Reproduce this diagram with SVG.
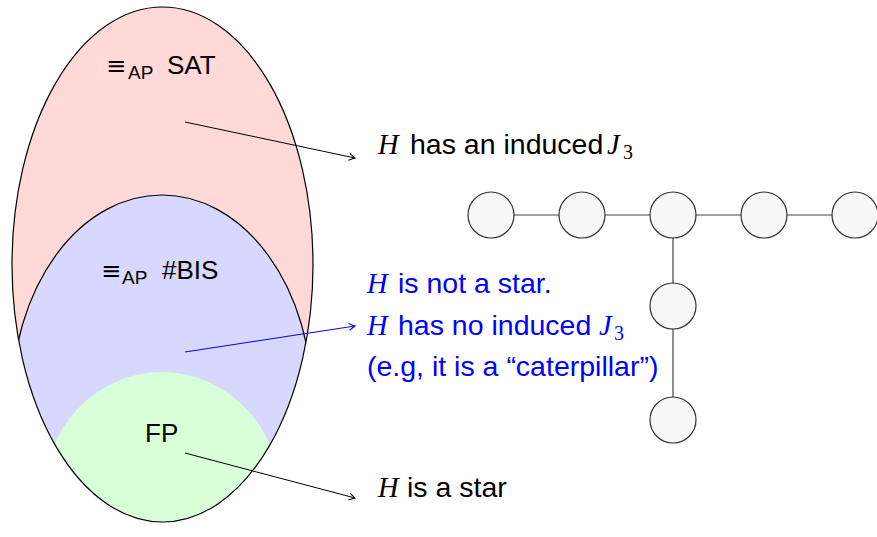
<svg xmlns="http://www.w3.org/2000/svg" width="877" height="537" viewBox="0 0 877 537">
<style>
.sans{font-family:"Liberation Sans",Arial,sans-serif;}
.math{font-family:"Liberation Serif","Times New Roman",serif;font-style:italic;}
.num{font-family:"Liberation Serif","Times New Roman",serif;}
.eq{font-family:"DejaVu Sans",sans-serif;font-size:24px;}
.lbl{font-size:26px;fill:#000;}
.rt{font-size:28.5px;}
.node{fill:#f7f7f7;stroke:#333;stroke-width:1.2;}
.edge{stroke:#444;stroke-width:1.2;fill:none;}
.arr{stroke:#000;stroke-width:1;fill:none;}
</style>
<defs>
<clipPath id="outerClip"><ellipse cx="162.5" cy="264.5" rx="150.5" ry="257.5"/></clipPath>
<marker id="tipK" viewBox="-8 -5 10 10" refX="0" refY="0" markerWidth="10" markerHeight="10" markerUnits="userSpaceOnUse" orient="auto"><path d="M-6,-3.5 Q-1.5,-0.8 0,0 Q-1.5,0.8 -6,3.5" fill="none" stroke="#000" stroke-width="1"/></marker>
<marker id="tipB" viewBox="-8 -5 10 10" refX="0" refY="0" markerWidth="10" markerHeight="10" markerUnits="userSpaceOnUse" orient="auto"><path d="M-6,-3.5 Q-1.5,-0.8 0,0 Q-1.5,0.8 -6,3.5" fill="none" stroke="#00f" stroke-width="1"/></marker>
</defs>

<g id="regions">
<ellipse id="sat" cx="162.5" cy="264.5" rx="150.5" ry="257.5" fill="#ffd8d8"/>
<g clip-path="url(#outerClip)">
<ellipse id="bis" cx="162" cy="400" rx="150" ry="205" fill="#d8d8ff" stroke="#000" stroke-width="1.2"/>
<ellipse id="fp" cx="162" cy="500" rx="120" ry="128" fill="#d8ffd8"/>
</g>
<ellipse cx="162.5" cy="264.5" rx="150.5" ry="257.5" fill="none" stroke="#000" stroke-width="1.2"/>
</g>

<g id="region-labels" class="sans lbl">
<text y="74"><tspan class="eq" x="106">≡</tspan><tspan font-size="19" x="128" y="79">AP</tspan><tspan x="167" y="74">SAT</tspan></text>
<text y="279"><tspan class="eq" x="101">≡</tspan><tspan font-size="19" x="122" y="284">AP</tspan><tspan x="162" y="279">#BIS</tspan></text>
<text x="145" y="442">FP</text>
</g>

<g id="connectors">
<line class="arr" x1="185" y1="122" x2="355" y2="158" marker-end="url(#tipK)"/>
<line x1="185" y1="352" x2="355" y2="326" stroke="#00f" stroke-width="1" marker-end="url(#tipB)"/>
<line class="arr" x1="185" y1="453" x2="355" y2="498" marker-end="url(#tipK)"/>
<line class="edge" x1="491" y1="215" x2="855" y2="215"/>
<line class="edge" x1="673" y1="215" x2="673" y2="420"/>
</g>

<g id="text-sat" class="rt">
<text y="154"><tspan class="math" x="378">H</tspan><tspan class="sans" x="410">has an induced</tspan><tspan class="math" x="607">J</tspan><tspan class="num" font-size="20" x="623" y="159">3</tspan></text>
</g>
<g id="text-bis" class="rt" fill="#00f">
<text y="293"><tspan class="math" x="367">H</tspan><tspan class="sans" x="398">is not a star.</tspan></text>
<text y="335"><tspan class="math" x="367">H</tspan><tspan class="sans" x="398">has no induced</tspan><tspan class="math" x="599">J</tspan><tspan class="num" font-size="20" x="614" y="340">3</tspan></text>
<text y="376"><tspan class="sans" x="367">(e.g, it is a “caterpillar”)</tspan></text>
</g>
<g id="text-fp" class="rt">
<text y="497"><tspan class="math" x="378">H</tspan><tspan class="sans" x="407">is a star</tspan></text>
</g>

<g id="n1"><circle class="node" cx="491" cy="215" r="23"/></g>
<g id="n2"><circle class="node" cx="582" cy="215" r="23"/></g>
<g id="n3"><circle class="node" cx="673" cy="215" r="23"/></g>
<g id="n4"><circle class="node" cx="764" cy="215" r="23"/></g>
<g id="n5"><circle class="node" cx="855" cy="215" r="23"/></g>
<g id="n6"><circle class="node" cx="673" cy="306" r="23"/></g>
<g id="n7"><circle class="node" cx="673" cy="420" r="23"/></g>
</svg>
